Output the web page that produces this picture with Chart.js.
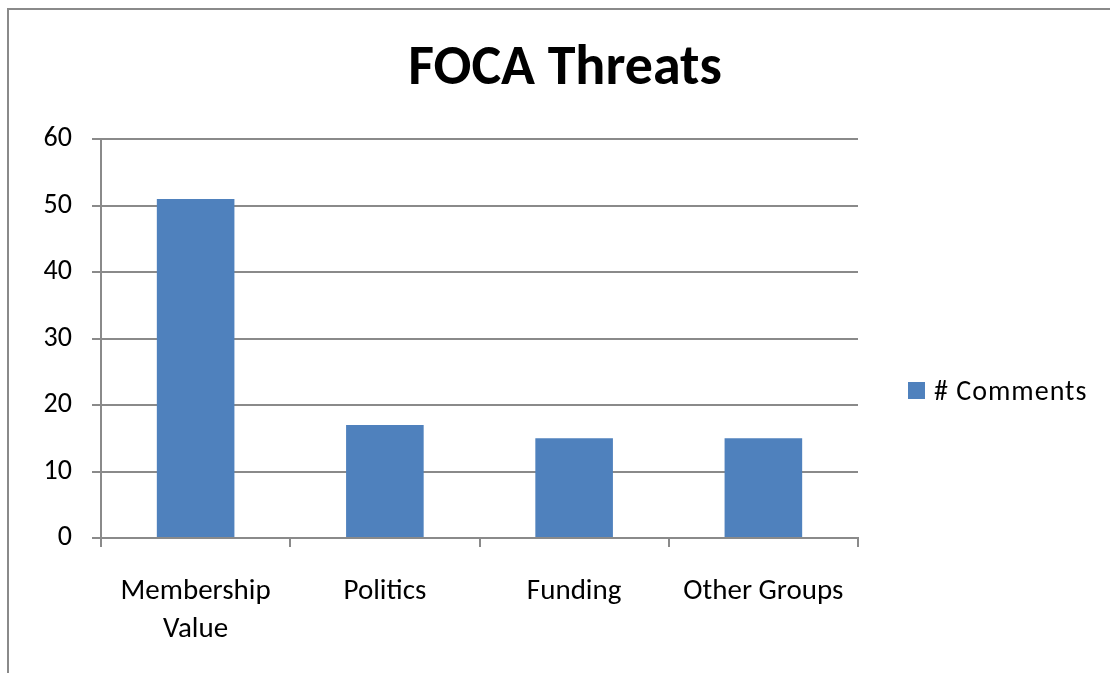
<!DOCTYPE html>
<html>
<head>
<meta charset="utf-8">
<script src="https://cdn.jsdelivr.net/npm/chart.js@4/dist/chart.umd.min.js"></script>
<style>
  html, body { margin: 0; padding: 0; background: #fff; overflow: hidden; }
  #wrap { position: relative; width: 1110px; height: 673px; }
  #frame { position: absolute; left: 7px; top: 8px; width: 1200px; height: 800px;
           border-left: 2px solid #8a8a8a; border-top: 2px solid #8a8a8a; }
  canvas { position: absolute; left: 0; top: 0; }
  #legend { position: absolute; left: 908px; top: 373px; font: 28px Carlito, Lato, sans-serif;
            letter-spacing: 1px; color: #000; display: flex; align-items: center; white-space: nowrap; }
  #legend i { display: inline-block; width: 17px; height: 17px; background: #4F81BD; margin-right: 9px; }
</style>
</head>
<body>
<div id="wrap">
  <div id="frame"></div>
  <canvas id="chart" width="1110" height="673"></canvas>
  <div id="legend"><i></i><span>Comments</span></div>
</div>
<script>
  // datos
  const categories = [['Membership', 'Value'], 'Politics', 'Funding', 'Other Groups'];
  const comments = [51, 17, 15, 15];
  const seriesName = '# Comments';
  const yTicks = { min: 0, max: 60, step: 10 };

  const fontFamily = "Carlito, Lato, sans-serif";
  const gridColor = '#8a8a8a';

  document.querySelector('#legend span').textContent = seriesName;

  new Chart(document.getElementById('chart'), {
    type: 'bar',
    data: {
      labels: categories,
      datasets: [{
        label: seriesName,
        data: comments,
        backgroundColor: '#4F81BD',
        barPercentage: 0.41,
        categoryPercentage: 1,
      }],
    },
    options: {
      responsive: false,
      animation: false,
      layout: { padding: { left: 20, right: 0, top: 0, bottom: 0 } },
      plugins: {
        legend: { display: false },
        tooltip: { enabled: false },
        title: {
          display: true,
          text: 'FOCA Threats',
          color: '#000',
          font: { family: fontFamily, size: 56, weight: 'bold' },
          padding: { top: 36, bottom: 36 },
        },
      },
      scales: {
        x: {
          grid: { display: true, drawOnChartArea: false, color: gridColor, lineWidth: 2, tickLength: 9, offset: true },
          border: { display: true, color: gridColor, width: 2 },
          ticks: { color: '#000', font: { family: fontFamily, size: 29, lineHeight: 1.3 }, padding: 26, maxRotation: 0 },
          afterFit: s => { s.height = 135; },
        },
        y: {
          min: yTicks.min, max: yTicks.max,
          grid: { color: gridColor, lineWidth: 2, tickLength: 9 },
          border: { display: true, color: gridColor, width: 2 },
          ticks: { stepSize: yTicks.step, color: '#000', font: { family: fontFamily, size: 28 }, padding: 20 },
          afterFit: s => { s.width = 81; },
        },
        pad: {
          position: 'right',
          display: true,
          grid: { display: false },
          border: { display: false },
          ticks: { display: false },
          afterFit: s => { s.width = 252; },
        },
      },
    },
  });
</script>
</body>
</html>
